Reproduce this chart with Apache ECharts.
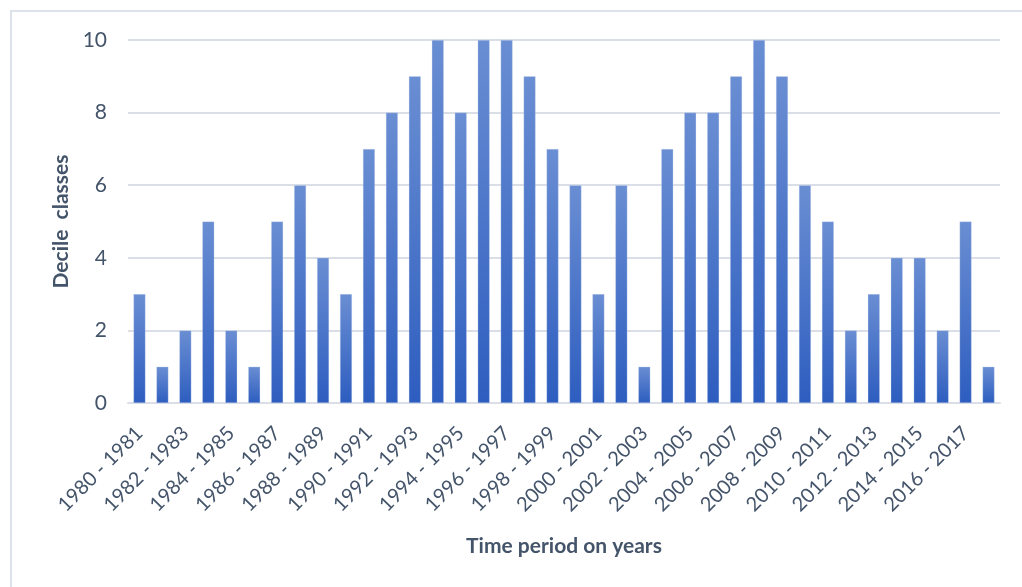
<!DOCTYPE html>
<html>
<head>
<meta charset="utf-8">
<script src="https://cdn.jsdelivr.net/npm/echarts@6/dist/echarts.min.js"></script>
<style>
  html, body { margin: 0; padding: 0; background: #ffffff; }
  #chart { width: 1022px; height: 587px; }
</style>
</head>
<body>
<div id="chart"></div>
<script>
// Two-year periods, 1980 - 1981 through 2017 - 2018
const periods = [
  "1980 - 1981", "1981 - 1982", "1982 - 1983", "1983 - 1984", "1984 - 1985",
  "1985 - 1986", "1986 - 1987", "1987 - 1988", "1988 - 1989", "1989 - 1990",
  "1990 - 1991", "1991 - 1992", "1992 - 1993", "1993 - 1994", "1994 - 1995",
  "1995 - 1996", "1996 - 1997", "1997 - 1998", "1998 - 1999", "1999 - 2000",
  "2000 - 2001", "2001 - 2002", "2002 - 2003", "2003 - 2004", "2004 - 2005",
  "2005 - 2006", "2006 - 2007", "2007 - 2008", "2008 - 2009", "2009 - 2010",
  "2010 - 2011", "2011 - 2012", "2012 - 2013", "2013 - 2014", "2014 - 2015",
  "2015 - 2016", "2016 - 2017", "2017 - 2018"
];

// Decile class assigned to each period
const decileClass = [
  3, 1, 2, 5, 2, 1, 5, 6, 4, 3,
  7, 8, 9, 10, 8, 10, 10, 9, 7, 6,
  3, 6, 1, 7, 8, 8, 9, 10, 9, 6,
  5, 2, 3, 4, 4, 2, 5, 1
];

const yTicks = { min: 0, max: 10, interval: 2 };

const textColor = '#44546a';
const lineColor = '#d9dee7';
const fontFamily = 'Lato, "Open Sans", sans-serif';

const chart = echarts.init(document.getElementById('chart'), null, { renderer: 'canvas' });

chart.setOption({
  backgroundColor: '#ffffff',
  animation: false,
  graphic: [{
    type: 'rect',
    shape: { x: 11, y: 11, width: 1040, height: 620 },
    style: { fill: 'none', stroke: '#dde2ea', lineWidth: 2 },
    silent: true,
    z: -1
  }],
  grid: { left: 128, right: 22, top: 40, bottom: 184 },
  xAxis: {
    type: 'category',
    data: periods,
    name: 'Time period on years',
    nameLocation: 'middle',
    nameGap: 133,
    nameTextStyle: { color: textColor, fontSize: 21, fontWeight: 'bold', fontFamily },
    axisLine: { show: true, lineStyle: { color: lineColor, width: 2 } },
    axisTick: { show: false },
    axisLabel: {
      interval: 1,
      rotate: 45,
      margin: 27,
      color: textColor,
      fontSize: 20,
      fontFamily
    }
  },
  yAxis: {
    type: 'value',
    min: yTicks.min,
    max: yTicks.max,
    interval: yTicks.interval,
    name: 'Decile  classes',
    nameLocation: 'middle',
    nameGap: 54,
    nameTextStyle: { color: textColor, fontSize: 21, fontWeight: 'bold', fontFamily },
    axisLine: { show: false },
    axisTick: { show: false },
    axisLabel: { color: textColor, fontSize: 21, margin: 21, fontFamily },
    splitLine: { lineStyle: { color: lineColor, width: 2 } }
  },
  series: [{
    type: 'bar',
    data: decileClass,
    barWidth: 12,
    itemStyle: {
      color: new echarts.graphic.LinearGradient(0, 0, 0, 1, [
        { offset: 0, color: '#6a8ed3' },
        { offset: 1, color: '#2d5dbf' }
      ]),
      borderColor: 'rgba(210,222,242,0.6)',
      borderWidth: 0.5
    }
  }]
});
</script>
</body>
</html>
